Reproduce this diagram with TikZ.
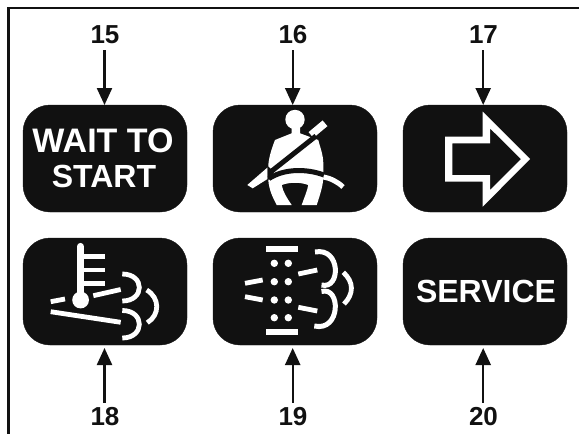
\documentclass[tikz,border=0pt]{standalone}
\usepackage{fontspec}
\setmainfont{Liberation Sans}
\usetikzlibrary{arrows.meta}
\definecolor{ink}{HTML}{111111}
\tikzset{
  x=1pt,y=-1pt,
  panel/.style={fill=ink,draw=ink,rounded corners=27pt},
  num/.style={font=\fontsize{26}{26}\selectfont\bfseries,text=ink,inner sep=0pt,anchor=center},
  lead/.style={draw=ink,line width=2.3pt,-{Triangle[length=17pt,width=15pt,fill=ink]}},
  wt/.style={white,line width=4.8pt},
  wtext/.style={text=white,inner sep=0pt,anchor=center,align=center},
}
\begin{document}
\begin{tikzpicture}
\useasboundingbox (0,0) rectangle (579,434);
\fill[white] (0,0) rectangle (579,434);
\draw[ink,line width=2.5pt] (8.7,434) -- (8.7,7.8) -- (579,7.8);
% panels
\path[panel] (23,105) rectangle (187,212);
\path[panel] (213,105) rectangle (377,212);
\path[panel] (403,105) rectangle (567,212);
\path[panel] (23,238) rectangle (187,345);
\path[panel] (213,238) rectangle (377,345);
\path[panel] (403,238) rectangle (567,345);
\coordinate (p15) at (104.5,105);
\coordinate (p16) at (292.7,105);
\coordinate (p17) at (483.2,105);
\coordinate (p18) at (104.5,348);
\coordinate (p19) at (292.7,348);
\coordinate (p20) at (483.2,348);
% labels
\node[num] (n15) at (105,34.5) {15};
\node[num] (n16) at (293,34.5) {16};
\node[num] (n17) at (483.5,34.5) {17};
\node[num] (n18) at (105,416.5) {18};
\node[num] (n19) at (293,416.5) {19};
\node[num] (n20) at (483.5,416.5) {20};
\coordinate (s15) at (104.5,50);
\coordinate (s16) at (292.7,50);
\coordinate (s17) at (483.2,50);
\coordinate (s18) at (104.5,402.5);
\coordinate (s19) at (292.7,402.5);
\coordinate (s20) at (483.2,402.5);
\foreach \i in {15,...,20} \draw[lead] (s\i) -- (p\i);
% text panels
\node[wtext,font=\fontsize{34}{34}\selectfont\bfseries] (wait) at (103,140.5) {WAIT TO};
\node[wtext,font=\fontsize{32}{32}\selectfont\bfseries] (start) at (104,176.5) {START};
\node[wtext,font=\fontsize{32}{32}\selectfont\bfseries] (service) at (486,291) {SERVICE};
% seat belt figure (16)
\fill[white] (295,119.5) circle (9.7);
\fill[white] (291.7,124) -- (291.7,133.3) -- (275,140)
  .. controls (271,150) and (268.3,160) .. (268.3,166.7) -- (268.3,180)
  .. controls (269,190) and (273,198) .. (276.7,205) -- (291.7,205)
  .. controls (287,198) and (283,192) .. (281.7,185)
  .. controls (290,182) and (300,182) .. (308.3,185)
  .. controls (307,192) and (304,198) .. (301.7,205) -- (316.7,205)
  .. controls (320,195) and (323.3,185) .. (323.3,176.7) -- (323.3,163.3)
  .. controls (323.3,155) and (320,147) .. (318.3,140) -- (300,133.3) -- (300,124) -- cycle;
\draw[white,line width=7.5pt] (325,123.3) -- (311,135);
\draw[ink,line width=5pt] (316,136) -- (268,174);
\fill[white] (247.3,185) -- (252.7,188.3) -- (267.5,179) -- (267.5,167.5) -- cycle;
\fill[ink] (267.5,166) -- (274,171.5) -- (270,179.5) -- (267.5,179.5) -- cycle;
\draw[ink,line width=5pt] (269,178.5) .. controls (285,168) and (308,169) .. (324,175);
\draw[white,line width=5pt] (323.5,177) .. controls (330,178) and (338,182) .. (343,187);
% arrow (17)
\fill[white,even odd rule] (482.7,111.7) -- (530,159) -- (482.7,206.7) -- (482.7,181.7) -- (445,181.7) -- (445,136.7) -- (482.7,136.7) -- cycle
  (490,128.3) -- (490,143.3) -- (452.3,143.3) -- (452.3,175) -- (490,175) -- (490,190) -- (521,159) -- cycle;
% thermometer (18)
\draw[white,line width=7.2pt,line cap=round] (80.4,246.5) -- (80.4,300);
\fill[white] (80.6,300) circle (8.4);
\draw[white,line width=4.8pt] (83,256.7) -- (105,256.7) (83,270) -- (105,270) (83,283.3) -- (105,283.3);
\draw[wt] (50.7,301.7) -- (65,299) (93.3,295.7) -- (120.7,289.5);
\draw[wt] (50.7,311.7) -- (120.7,322.3);
\draw[wt] (122.3,274) .. controls (145,274) and (145,301) .. (122.3,301);
\draw[wt] (122.3,310.5) .. controls (145,310.5) and (145,338) .. (122.3,338);
\draw[wt] (146.7,290) .. controls (160,298) and (160,315) .. (147.3,322.7);
% exhaust filter (19)
\fill[white] (265.7,246) rectangle (298.3,251.7);
\fill[white] (265.7,329.3) rectangle (298.3,335);
\foreach \yy in {263.3,281.7,300,317.7} {\fill[white] (274.3,\yy) circle (3.7); \fill[white] (288.3,\yy) circle (3.7);}
\draw[wt] (245,283.3) -- (262.7,280);
\draw[wt] (245,296.7) -- (262.7,300);
\draw[wt] (298.3,274) -- (317.3,270);
\draw[wt] (298.3,307.3) -- (317.3,311);
\draw[white,line width=5pt] (315,252) .. controls (341,247) and (341,290) .. (321.5,285);
\draw[white,line width=5pt] (321.5,291.5) .. controls (341,286) and (341,332) .. (314.3,326);
\draw[white,line width=4.8pt] (343.3,272.3) .. controls (354,282) and (354,294) .. (344,304);
\end{tikzpicture}
\end{document}
